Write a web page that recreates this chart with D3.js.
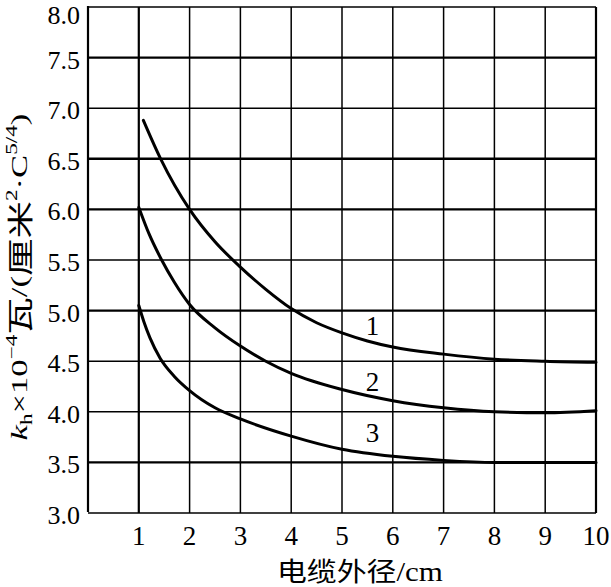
<!DOCTYPE html>
<html><head><meta charset="utf-8">
<script src="https://cdn.jsdelivr.net/npm/d3@7"></script>
<style>body{margin:0;background:#fff}</style>
</head><body>
<svg id="c" width="611" height="587"></svg>
<script>
const xTicks = [1,2,3,4,5,6,7,8,9,10];
const yTicks = [3.0,3.5,4.0,4.5,5.0,5.5,6.0,6.5,7.0,7.5,8.0];
const curve1X = [1.09,1.43,2,2.5,3,3.5,4,4.5,5,5.5,6,7,8,9,10];
const curve1Y = [6.88,6.5,6.0,5.68,5.43,5.21,5.02,4.88,4.78,4.70,4.64,4.57,4.52,4.50,4.49];
const curve2X = [1.0,1.2,1.45,1.7,2,2.5,3,3.5,4,5,6,7,8,9,10];
const curve2Y = [6.02,5.76,5.5,5.28,5.06,4.83,4.65,4.50,4.38,4.22,4.11,4.04,4.00,3.99,4.01];
const curve3X = [1.0,1.1,1.22,1.42,1.7,2,2.5,3,4,5,6,7,8,9,10];
const curve3Y = [5.05,4.89,4.73,4.53,4.35,4.21,4.04,3.93,3.76,3.63,3.56,3.52,3.50,3.50,3.50];
const labels = ["1","2","3"];
const labelX = [5.6,5.6,5.6];
const labelY = [4.76,4.21,3.70];
const xTitle = ["电缆外径", "/cm"];

// styling (not data)
const thickH = [3.5,5.0,6.0,6.5,7.5];
const thickV = [1,10];

const svg = d3.select("#c");
const x = d3.scaleLinear().domain([0,10]).range([88,596]);
const y = d3.scaleLinear().domain([3,8]).range([513,7]);
const serif = "'Liberation Serif','Times New Roman',serif";
const cjk = "'Noto Sans CJK SC','Noto Sans CJK JP',sans-serif";

const g = svg.append("g");
g.selectAll("line.v").data(xTicks).join("line").attr("class","v")
  .attr("x1",d=>x(d)).attr("x2",d=>x(d)).attr("y1",y(3)).attr("y2",y(8))
  .attr("stroke","#000").attr("stroke-width",d=>thickV.includes(d)?2.2:1.5);
g.selectAll("line.h").data(yTicks).join("line").attr("class","h")
  .attr("x1",x(0)).attr("x2",x(10)).attr("y1",d=>y(d)).attr("y2",d=>y(d))
  .attr("stroke","#000").attr("stroke-width",d=>thickH.includes(d)?2.4:1.5);
g.append("line").attr("x1",x(0)).attr("x2",x(0)).attr("y1",y(3)-1).attr("y2",y(8)-1)
  .attr("stroke","#000").attr("stroke-width",2.2);

// tick labels
g.selectAll("text.xt").data(xTicks).join("text").attr("class","xt")
  .attr("x",d=>x(d)).attr("y",545).attr("text-anchor","middle")
  .attr("font-family",serif).attr("font-size",27).text(d=>d);
g.selectAll("text.yt").data(yTicks).join("text").attr("class","yt")
  .attr("x",80).attr("y",d=>Math.max(y(d)+11,23.5)).attr("text-anchor","end")
  .attr("font-family",serif).attr("font-size",26).text(d=>d.toFixed(1));

// curves
const line = d3.line().x(d=>x(d[0])).y(d=>y(d[1])).curve(d3.curveMonotoneX);
[[curve1X,curve1Y],[curve2X,curve2Y],[curve3X,curve3Y]].forEach(([xs,ys])=>{
  g.append("path").attr("d",line(d3.zip(xs,ys))).attr("fill","none")
   .attr("stroke","#000").attr("stroke-width",3).attr("stroke-linecap","round");
});
g.selectAll("text.lab").data(labels).join("text").attr("class","lab")
  .attr("x",(d,i)=>x(labelX[i])).attr("y",(d,i)=>y(labelY[i]))
  .attr("text-anchor","middle").attr("font-family",serif).attr("font-size",27).text(d=>d);

// x title, stretched to reference width
const xt = svg.append("text").attr("font-family",serif).attr("font-size",27);
xt.append("tspan").attr("font-family",cjk).attr("font-size",26).text(xTitle[0]);
xt.append("tspan").text(xTitle[1]);
{
  const bb = xt.node().getBBox();
  const target = 166, cx = 360;
  const s = target/bb.width;
  xt.attr("transform",`translate(${cx - s*(bb.x+bb.width/2)},581) scale(${s},1)`);
}

// y title
const yt = svg.append("text").attr("font-family",serif).attr("font-size",24);
yt.append("tspan").attr("font-style","italic").text("k");
yt.append("tspan").attr("font-size",16).attr("dy",5).text("h");
yt.append("tspan").attr("dy",-5).text("×10");
yt.append("tspan").attr("font-size",16).attr("dy",-10).text("−4");
yt.append("tspan").attr("dy",13).attr("font-family",cjk).attr("font-size",26).text("瓦");
yt.append("tspan").attr("dy",-3).text("/(");
yt.append("tspan").attr("dy",3).attr("font-family",cjk).attr("font-size",26).text("厘米");
yt.append("tspan").attr("font-size",16).attr("dy",-13).text("2");
yt.append("tspan").attr("dy",10).text("·C");
yt.append("tspan").attr("font-size",16).attr("dy",-10).text("5/4");
yt.append("tspan").attr("dy",10).text(")");
{
  const bb = yt.node().getBBox();
  const target = 327, cy = 277;
  const s = target/bb.width;
  yt.attr("transform",`translate(27,${cy + s*(bb.x+bb.width/2)}) rotate(-90) scale(${s},1)`);
}
</script>
</body></html>
